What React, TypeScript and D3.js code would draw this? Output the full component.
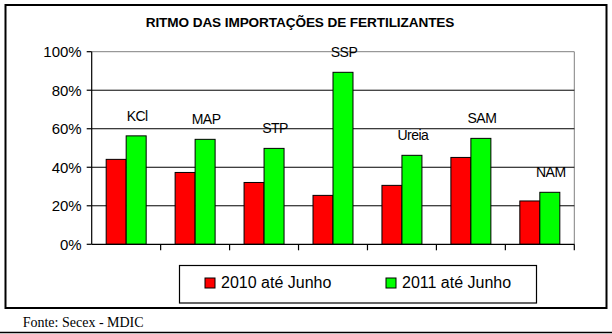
import React from "react";
import * as d3 from "d3";

const categories = ["KCl", "MAP", "STP", "SSP", "Ureia", "SAM", "NAM"];
const values2010 = [44.1, 37.3, 32.1, 25.4, 30.6, 45.1, 22.5];
const values2011 = [56.3, 54.5, 49.8, 89.3, 46.2, 55.0, 27.0];
const seriesNames = ["2010 até Junho", "2011 até Junho"];
const seriesColors = ["#FF0000", "#00FF00"];
const yTicks = [0, 20, 40, 60, 80, 100];
const title = "RITMO DAS IMPORTAÇÕES DE FERTILIZANTES";
const source = "Fonte: Secex - MDIC";

const W = 612;
const H = 334;
const plot = { left: 91.7, right: 574.3, top: 51.7, bottom: 244.3 };
const FONT = "Liberation Sans, Arial, sans-serif";

export default function App() {
  const x = d3
    .scaleBand<string>()
    .domain(categories)
    .range([plot.left, plot.right])
    .paddingInner(0)
    .paddingOuter(0);
  const bw = x.bandwidth();
  const barW = bw * 0.29;
  const y = d3.scaleLinear().domain([0, 100]).range([plot.bottom, plot.top]);
  const series = [values2010, values2011];

  return (
    <svg
      width={W}
      height={H}
      style={{ position: "absolute", left: 0, top: 0, background: "#fff" }}
      fontFamily={FONT}
    >
      <rect x={0} y={0} width={W} height={H} fill="#fff" />
      {/* outer frame */}
      <rect x={5.5} y={5} width={601} height={303} fill="none" stroke="#000" strokeWidth={2} />
      <line x1={0} x2={W} y1={332.5} y2={332.5} stroke="#000" strokeWidth={1.5} />

      {/* title */}
      <text x={300} y={26.7} textAnchor="middle" fontWeight="bold" fontSize={13.6} letterSpacing={-0.1}>
        {title}
      </text>

      {/* plot border (gray) */}
      <line x1={plot.left} x2={plot.right} y1={y(100)} y2={y(100)} stroke="#808080" strokeWidth={1} />
      <line x1={plot.right} x2={plot.right} y1={plot.top} y2={plot.bottom} stroke="#808080" strokeWidth={1} />

      {/* gridlines */}
      {yTicks
        .filter((t) => t > 0 && t < 100)
        .map((t) => (
          <line key={t} x1={plot.left} x2={plot.right} y1={y(t)} y2={y(t)} stroke="#000" strokeWidth={1} />
        ))}

      {/* bars */}
      {categories.map((c, i) => {
        const cx = (x(c) as number) + bw / 2;
        return series.map((vals, s) => (
          <rect
            key={c + s}
            x={cx - barW + s * barW}
            y={y(vals[i])}
            width={barW}
            height={y(0) - y(vals[i])}
            fill={seriesColors[s]}
            stroke="#000"
            strokeWidth={1}
          />
        ));
      })}

      {/* category labels above bars */}
      {categories.map((c, i) => {
        const cx = (x(c) as number) + bw / 2 + barW / 2 + 1;
        const top = Math.max(values2010[i], values2011[i]);
        return (
          <text key={c} x={cx} y={y(top) - 15} textAnchor="middle" fontSize={14} letterSpacing={-0.5}>
            {c}
          </text>
        );
      })}

      {/* axes */}
      <line x1={plot.left} x2={plot.left} y1={plot.top} y2={plot.bottom} stroke="#000" strokeWidth={1.2} />
      <line x1={plot.left} x2={plot.right} y1={plot.bottom} y2={plot.bottom} stroke="#000" strokeWidth={1.2} />
      {yTicks.map((t) => (
        <g key={t}>
          <line x1={plot.left - 5} x2={plot.left} y1={y(t)} y2={y(t)} stroke="#000" strokeWidth={1.2} />
          <text x={plot.left - 10} y={y(t)} dy="0.36em" textAnchor="end" fontSize={15}>
            {t + "%"}
          </text>
        </g>
      ))}
      {categories.map((c, i) => (
        <line
          key={"t" + c}
          x1={(x(c) as number) + bw}
          x2={(x(c) as number) + bw}
          y1={plot.bottom}
          y2={plot.bottom + 6}
          stroke="#000"
          strokeWidth={1.2}
        />
      ))}

      {/* legend */}
      <rect x={179.5} y={265.5} width={357} height={37.5} fill="#fff" stroke="#000" strokeWidth={1.2} />
      {seriesNames.map((n, s) => (
        <g key={n} transform={`translate(${205 + s * 181},278)`}>
          <rect x={0} y={0} width={10} height={10} fill={seriesColors[s]} stroke="#000" strokeWidth={1} />
          <text x={16} y={10} fontSize={16}>
            {n}
          </text>
        </g>
      ))}

      {/* source */}
      <text x={22.7} y={326.7} fontFamily="Liberation Serif, Times New Roman, serif" fontSize={14}>
        {source}
      </text>
    </svg>
  );
}
